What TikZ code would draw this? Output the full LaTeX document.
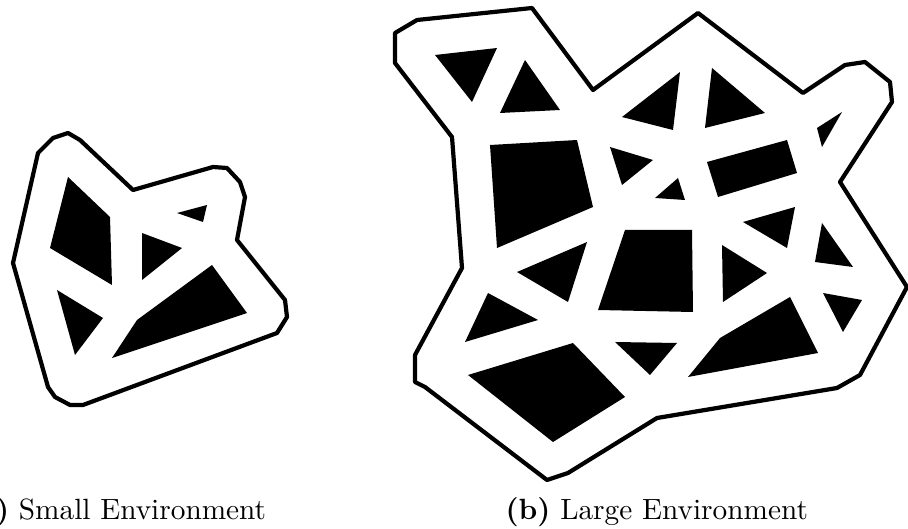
\documentclass[tikz,border=0pt]{standalone}
\begin{document}
\begin{tikzpicture}[x=1pt,y=-1pt,
  boundary/.style={draw=black,line width=4.2pt,line join=round},
  obstacle/.style={fill=black},
  subcap/.style={inner sep=0pt,anchor=base west,scale=2.93}]
\useasboundingbox (0,0) rectangle (908,529);
% small environment
\draw[boundary] (53,138)--(68,133)--(80,140)--(133,190)--(213,167)--(227,168)--(240,182)--(245,197)--(237,240)--(285,300)--(287,317)--(277,333)--(83,405)--(70,405)--(55,397)--(48,387)--(13,263)--(38,153)--cycle;
\fill[obstacle] (68,177)--(110,217)--(112,285)--(50,248)--cycle;
\fill[obstacle] (177,213)--(207,205)--(203,222)--cycle;
\fill[obstacle] (142,233)--(182,248)--(142,280)--cycle;
\fill[obstacle] (57,290)--(103,318)--(75,355)--cycle;
\fill[obstacle] (212,265)--(247,313)--(112,358)--(137,320)--cycle;
% large environment
\draw[boundary] (395,33)--(417,20)--(532,8)--(593,90)--(698,13)--(803,93)--(845,65)--(865,62)--(890,82)--(892,102)--(840,182)--(907,287)--(860,375)--(837,388)--(657,418)--(568,473)--(547,480)--(425,387)--(415,382)--(415,355)--(462,268)--(452,137)--(395,63)--cycle;
\fill[obstacle] (435,55)--(497,48)--(472,102)--cycle;
\fill[obstacle] (525,60)--(560,110)--(500,113)--cycle;
\fill[obstacle] (490,145)--(577,140)--(593,207)--(497,248)--cycle;
\fill[obstacle] (610,147)--(653,160)--(622,185)--cycle;
\fill[obstacle] (622,117)--(680,72)--(673,130)--cycle;
\fill[obstacle] (712,68)--(765,113)--(705,128)--cycle;
\fill[obstacle] (817,128)--(842,112)--(822,147)--cycle;
\fill[obstacle] (707,162)--(787,140)--(797,173)--(718,197)--cycle;
\fill[obstacle] (655,198)--(678,178)--(685,200)--cycle;
\fill[obstacle] (743,222)--(795,207)--(787,248)--cycle;
\fill[obstacle] (822,223)--(853,267)--(815,262)--cycle;
\fill[obstacle] (625,230)--(692,230)--(693,312)--(598,310)--cycle;
\fill[obstacle] (722,245)--(767,273)--(723,302)--cycle;
\fill[obstacle] (517,272)--(587,242)--(568,302)--cycle;
\fill[obstacle] (488,293)--(538,320)--(465,342)--cycle;
\fill[obstacle] (468,375)--(573,343)--(625,397)--(553,442)--cycle;
\fill[obstacle] (615,342)--(677,343)--(650,375)--cycle;
\fill[obstacle] (823,293)--(862,300)--(843,332)--cycle;
\fill[obstacle] (790,297)--(818,353)--(688,377)--(720,338)--cycle;
% captions
\node[subcap] (capa) at (-34,519) {\textbf{(a)} Small Environment};
\node[subcap] (capb) at (505,519) {\textbf{(b)} Large Environment};
\end{tikzpicture}
\end{document}
